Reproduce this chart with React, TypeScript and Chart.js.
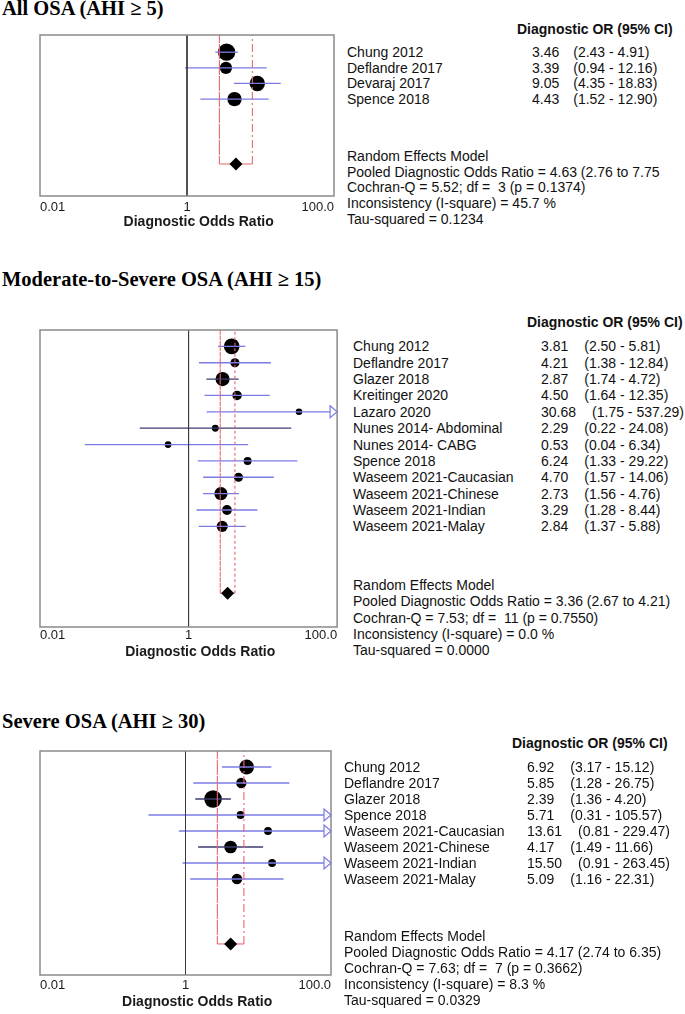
import React, { useEffect, useRef } from "react";
import { Chart, registerables } from "chart.js";

Chart.register(...registerables);

// ---------------- Data ----------------
const tickValues = [0.01, 1, 100];
const tickLabels = ["0.01", "1", "100.0"];
const axisTitle = "Diagnostic Odds Ratio";
const tableHeader = "Diagnostic OR (95% CI)";

const titles = [
  "All OSA (AHI \u2265 5)",
  "Moderate-to-Severe OSA (AHI \u2265 15)",
  "Severe OSA (AHI \u2265 30)",
];

// Panel 1: All OSA
const studies1 = ["Chung 2012", "Deflandre 2017", "Devaraj 2017", "Spence 2018"];
const or1 = [3.46, 3.39, 9.05, 4.43];
const lo1 = [2.43, 0.94, 4.35, 1.52];
const hi1 = [4.91, 12.16, 18.83, 12.9];
const weights1 = [38, 13, 27, 22];
const pooled1 = [4.63, 2.76, 7.75];
const stats1 = [
  "Random Effects Model",
  "Pooled Diagnostic Odds Ratio = 4.63 (2.76 to 7.75",
  "Cochran-Q = 5.52; df =  3 (p = 0.1374)",
  "Inconsistency (I-square) = 45.7 %",
  "Tau-squared = 0.1234",
];

// Panel 2: Moderate-to-Severe OSA
const studies2 = [
  "Chung 2012",
  "Deflandre 2017",
  "Glazer 2018",
  "Kreitinger 2020",
  "Lazaro 2020",
  "Nunes 2014- Abdominal",
  "Nunes 2014- CABG",
  "Spence 2018",
  "Waseem 2021-Caucasian",
  "Waseem 2021-Chinese",
  "Waseem 2021-Indian",
  "Waseem 2021-Malay",
];
const or2 = [3.81, 4.21, 2.87, 4.5, 30.68, 2.29, 0.53, 6.24, 4.7, 2.73, 3.29, 2.84];
const lo2 = [2.5, 1.38, 1.74, 1.64, 1.75, 0.22, 0.04, 1.33, 1.57, 1.56, 1.28, 1.37];
const hi2 = [5.81, 12.84, 4.72, 12.35, 537.29, 24.08, 6.34, 29.22, 14.06, 4.76, 8.44, 5.88];
const weights2 = [29, 4.2, 20.7, 5.1, 0.6, 0.9, 0.8, 2.2, 4.3, 16.7, 5.8, 9.7];
const pooled2 = [3.36, 2.67, 4.21];
const stats2 = [
  "Random Effects Model",
  "Pooled Diagnostic Odds Ratio = 3.36 (2.67 to 4.21)",
  "Cochran-Q = 7.53; df =  11 (p = 0.7550)",
  "Inconsistency (I-square) = 0.0 %",
  "Tau-squared = 0.0000",
];

// Panel 3: Severe OSA
const studies3 = [
  "Chung 2012",
  "Deflandre 2017",
  "Glazer 2018",
  "Spence 2018",
  "Waseem 2021-Caucasian",
  "Waseem 2021-Chinese",
  "Waseem 2021-Indian",
  "Waseem 2021-Malay",
];
const or3 = [6.92, 5.85, 2.39, 5.71, 13.61, 4.17, 15.5, 5.09];
const lo3 = [3.17, 1.28, 1.36, 0.31, 0.81, 1.49, 0.91, 1.16];
const hi3 = [15.12, 26.75, 4.2, 105.57, 229.47, 11.66, 263.45, 22.31];
const weights3 = [24, 7.2, 39.7, 2.1, 2.2, 15, 2.2, 7.7];
const pooled3 = [4.17, 2.74, 6.35];
const stats3 = [
  "Random Effects Model",
  "Pooled Diagnostic Odds Ratio = 4.17 (2.74 to 6.35)",
  "Cochran-Q = 7.63; df =  7 (p = 0.3662)",
  "Inconsistency (I-square) = 8.3 %",
  "Tau-squared = 0.0329",
];

const panels = [
  { title: titles[0], studies: studies1, or: or1, lo: lo1, hi: hi1, weights: weights1, pooled: pooled1, stats: stats1 },
  { title: titles[1], studies: studies2, or: or2, lo: lo2, hi: hi2, weights: weights2, pooled: pooled2, stats: stats2 },
  { title: titles[2], studies: studies3, or: or3, lo: lo3, hi: hi3, weights: weights3, pooled: pooled3, stats: stats3 },
];

// ---------------- Layout / style ----------------
const SANS = 'Arial, "Liberation Sans", Helvetica, sans-serif';
const SERIF = '"Times New Roman", "Liberation Serif", Times, serif';
const BLUE = "#7b7be6";
const DARK_BLUE = "#3c3c70";
const RED = "#e46a6a";

const layouts = [
  { top: 0, height: 240, boxTop: 35, boxBottom: 196, boxRight: 334, axisH: 34.4, tickPad: 4, yMin: -0.1, yMax: 10.2, pooledRow: 8.15, nameX: 347, valX: 532, ciX: 573, headX: 517, titleTop: -3, dash: [8, 3, 2, 3], darkCI: [] as number[] },
  { top: 300, height: 365, boxTop: 330, boxBottom: 627, boxRight: 340, axisH: 33.4, tickPad: 1, yMin: 0, yMax: 18.15, pooledRow: 16.08, nameX: 353, valX: 541, ciX: 584, headX: 527, titleTop: 268, dash: [3, 2.5], darkCI: [2, 5] },
  { top: 740, height: 274, boxTop: 751, boxBottom: 975, boxRight: 331, axisH: 35.4, tickPad: 3, yMin: 0, yMax: 14, pooledRow: 12.06, nameX: 344, valX: 527, ciX: 570, headX: 512, titleTop: 710, dash: [8, 3, 2, 3], darkCI: [2, 5] },
];

const CANVAS_W = 345;
const FONT = 14;
const LH = 16;

function Panel({ p, L }: { p: any; L: any }) {
  const ref = useRef<HTMLCanvasElement | null>(null);

  useEffect(() => {
    const canvas = ref.current;
    if (!canvas) return;
    const datasets: any[] = [];

    // line of no effect (OR = 1)
    datasets.push({
      type: "line",
      data: [
        { x: 1, y: L.yMin },
        { x: 1, y: L.yMax },
      ],
      borderColor: "#3a3a3a",
      borderWidth: 1,
      pointRadius: 0,
      order: 1,
    });

    // pooled CI bracket
    datasets.push({
      type: "line",
      data: [
        { x: p.pooled[1], y: L.yMin },
        { x: p.pooled[1], y: L.pooledRow },
        { x: p.pooled[2], y: L.pooledRow },
        { x: p.pooled[2], y: L.yMin },
      ],
      borderColor: RED,
      borderWidth: 1.1,
      pointRadius: 0,
      segment: {
        borderDash: (ctx: any) => (ctx.p0DataIndex === 1 ? [] : L.dash),
      },
      order: 1,
    });

    // study CI lines
    p.studies.forEach((_s: string, i: number) => {
      datasets.push({
        type: "line",
        data: [
          { x: p.lo[i], y: i + 1 },
          { x: p.hi[i], y: i + 1 },
        ],
        borderColor: L.darkCI.includes(i) ? DARK_BLUE : BLUE,
        borderWidth: 1.3,
        pointRadius: 0,
        order: 1,
      });
    });

    // study point estimates
    datasets.push({
      type: "scatter",
      data: p.or.map((v: number, i: number) => ({ x: v, y: i + 1 })),
      pointRadius: p.weights.map((w: number) => 2.5 + Math.sqrt(w)),
      backgroundColor: "#000",
      borderColor: "#000",
      borderWidth: 0,
      order: 2,
    });

    // pooled diamond
    datasets.push({
      type: "scatter",
      data: [{ x: p.pooled[0], y: L.pooledRow }],
      pointStyle: "rectRot",
      pointRadius: 6.5,
      backgroundColor: "#000",
      borderColor: "#000",
      borderWidth: 0,
      order: 0,
    });

    const forestPlugin = {
      id: "forestBox",
      afterDatasetsDraw(chart: any) {
        const { ctx, chartArea: a } = chart;
        ctx.save();
        ctx.strokeStyle = "#8a8a8a";
        ctx.lineWidth = 1.5;
        ctx.strokeRect(a.left, a.top, a.right - a.left, a.bottom - a.top);
        ctx.restore();
        const xs = chart.scales.x;
        const ys = chart.scales.y;
        p.hi.forEach((h: number, i: number) => {
          if (h <= xs.max) return;
          const x = xs.getPixelForValue(xs.max);
          const y = ys.getPixelForValue(i + 1);
          ctx.save();
          ctx.beginPath();
          ctx.moveTo(x - 7, y - 6);
          ctx.lineTo(x, y);
          ctx.lineTo(x - 7, y + 6);
          ctx.closePath();
          ctx.fillStyle = "#fff";
          ctx.fill();
          ctx.strokeStyle = BLUE;
          ctx.lineWidth = 1.2;
          ctx.stroke();
          ctx.restore();
        });
      },
    };

    const padTop = L.boxTop - L.top;
    const padBottom = L.height - (L.boxBottom - L.top) - L.axisH;

    const chart = new Chart(canvas, {
      type: "scatter",
      data: { datasets },
      options: {
        responsive: false,
        animation: false,
        events: [],
        layout: {
          padding: { top: padTop, bottom: padBottom, left: 40, right: CANVAS_W - L.boxRight },
        },
        plugins: {
          legend: { display: false },
          tooltip: { enabled: false },
        },
        scales: {
          x: {
            type: "logarithmic",
            min: tickValues[0],
            max: tickValues[tickValues.length - 1],
            afterBuildTicks: (scale: any) => {
              scale.ticks = tickValues.map((v) => ({ value: v }));
            },
            afterFit: (scale: any) => {
              scale.height = L.axisH;
            },
            grid: { display: false, drawTicks: false },
            border: { display: false },
            ticks: {
              align: "inner",
              padding: L.tickPad,
              maxRotation: 0,
              autoSkip: false,
              color: "#1a1a1a",
              font: { family: SANS, size: 13 },
              callback: (_v: any, index: number) => tickLabels[index],
            },
            title: {
              display: true,
              text: "      " + axisTitle,
              color: "#1a1a1a",
              font: { family: SANS, size: 14, weight: "bold" },
              padding: { top: 0, bottom: 0 },
            },
          },
          y: {
            type: "linear",
            display: false,
            reverse: true,
            min: L.yMin,
            max: L.yMax,
          },
        },
      } as any,
      plugins: [forestPlugin],
    } as any);

    return () => chart.destroy();
  }, []);

  const rowY = (v: number) =>
    L.boxTop + ((v - L.yMin) / (L.yMax - L.yMin)) * (L.boxBottom - L.boxTop);

  const textStyle = (x: number, cy: number, bold = false): React.CSSProperties => ({
    position: "absolute",
    left: x,
    top: cy - LH / 2,
    fontFamily: SANS,
    fontSize: FONT,
    lineHeight: LH + "px",
    fontWeight: bold ? "bold" : "normal",
    whiteSpace: "pre",
    color: "#111",
  });

  return (
    <>
      <div
        style={{
          position: "absolute",
          left: 2,
          top: L.titleTop,
          fontFamily: SERIF,
          fontWeight: "bold",
          fontSize: 20.5,
          lineHeight: "22px",
          whiteSpace: "pre",
          color: "#000",
        }}
      >
        {p.title}
      </div>
      <canvas
        ref={ref}
        width={CANVAS_W}
        height={L.height}
        style={{ position: "absolute", left: 0, top: L.top, width: CANVAS_W, height: L.height }}
      />
      <div style={textStyle(L.headX, rowY(-0.5), true)}>{tableHeader}</div>
      {p.studies.map((s: string, i: number) => (
        <React.Fragment key={i}>
          <div style={textStyle(L.nameX, rowY(i + 1))}>{s}</div>
          <div style={textStyle(L.valX, rowY(i + 1))}>
            <span
              style={{
                display: "inline-block",
                boxSizing: "border-box",
                minWidth: L.ciX - L.valX,
                paddingRight: L.ciX - L.valX - 27,
              }}
            >
              {p.or[i].toFixed(2)}
            </span>
            <span>{"(" + p.lo[i].toFixed(2) + " - " + p.hi[i].toFixed(2) + ")"}</span>
          </div>
        </React.Fragment>
      ))}
      {p.stats.map((t: string, k: number) => (
        <div key={"s" + k} style={textStyle(L.nameX, rowY(L.pooledRow - 0.5 + k))}>
          {t}
        </div>
      ))}
    </>
  );
}

export default function App() {
  return (
    <div
      style={{
        position: "absolute",
        left: 0,
        top: 0,
        width: 685,
        height: 1014,
        background: "#fff",
        overflow: "hidden",
      }}
    >
      {panels.map((p, i) => (
        <Panel key={i} p={p} L={layouts[i]} />
      ))}
    </div>
  );
}
